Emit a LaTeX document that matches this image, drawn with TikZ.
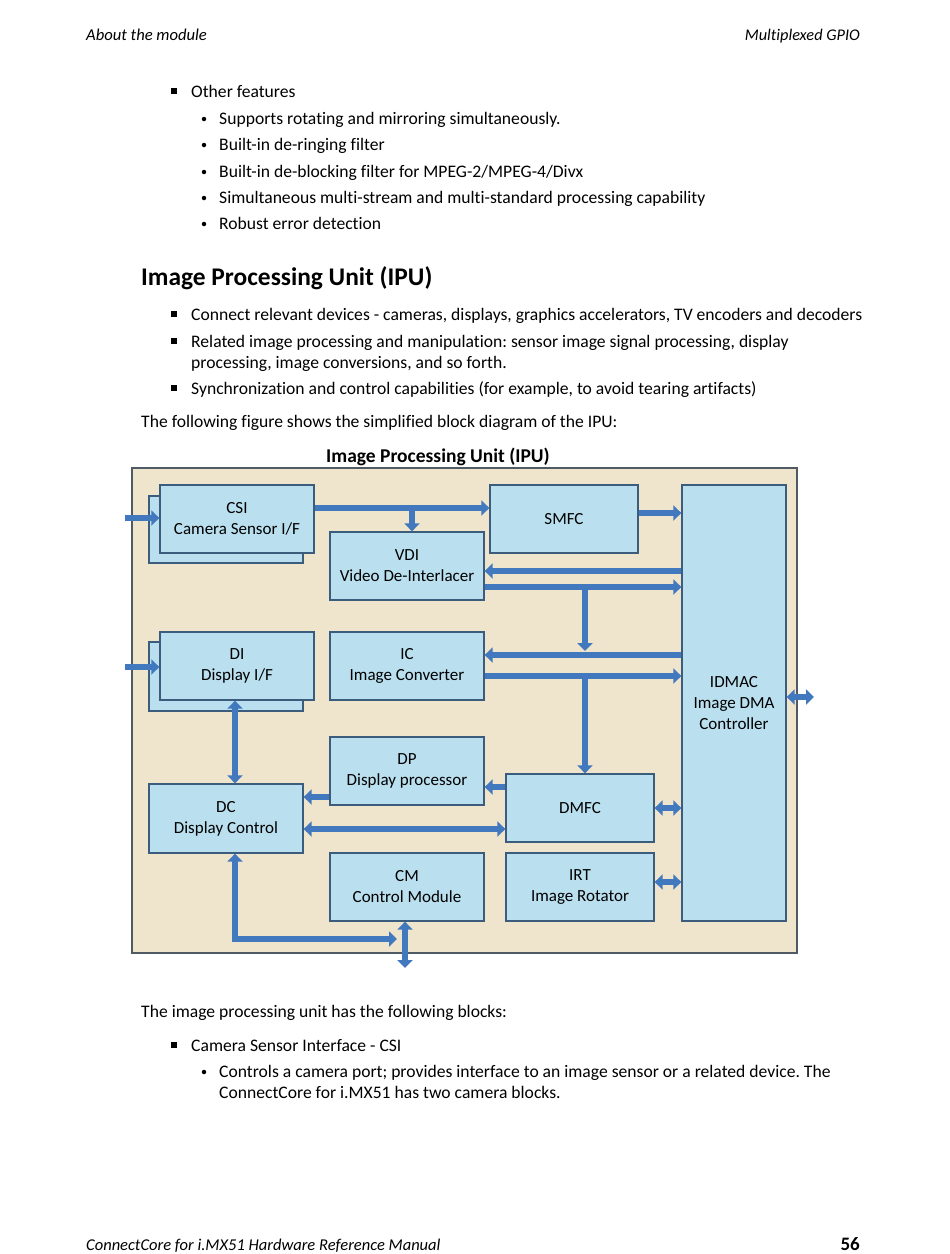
\documentclass[tikz,border=0pt]{standalone}
\usepackage{fontspec}
\setmainfont[Ligatures={NoCommon}]{Carlito}
\usetikzlibrary{arrows.meta}
\frenchspacing
\definecolor{tan}{RGB}{239,228,204}
\definecolor{boxblue}{RGB}{186,224,240}
\definecolor{boxline}{RGB}{60,92,125}
\definecolor{arrblue}{RGB}{66,120,190}
\definecolor{outline}{RGB}{80,90,100}
\tikzset{
  body/.style={anchor=base west, inner sep=0pt, font=\fontsize{17.6}{21}\selectfont},
  sqb/.style={fill=black, inner sep=0pt, minimum size=6.5pt},
  dotb/.style={circle, fill=black, inner sep=0pt, minimum size=4.5pt},
  blk/.style={draw=boxline, line width=1.3pt, fill=boxblue, align=center, inner sep=0pt,
              font=\fontsize{17}{21}\selectfont},
  arr/.style={draw=arrblue, line width=6pt, -{Triangle[length=8pt,width=15pt]}},
  darr/.style={draw=arrblue, line width=6pt, {Triangle[length=8pt,width=15pt]}-{Triangle[length=8pt,width=15pt]}},
}
\begin{document}
\begin{tikzpicture}[x=1pt,y=-1pt]
\fill[white] (0,0) rectangle (950,1254);
\useasboundingbox (0,0) rectangle (950,1254);
% header
\node[body, font=\fontsize{16.6}{19}\selectfont\itshape] (hl) at (86,40) {About the module};
\node[body, anchor=base east, font=\fontsize{16.3}{19}\selectfont\itshape] (hr) at (860,40) {Multiplexed GPIO};
% other features
\node[sqb] (q1) at (174,91) {};
\node[body] (t1) at (191,97) {Other features};
\node[dotb] (d1) at (204,119) {};
\node[body] (t2) at (219,124) {Supports rotating and mirroring simultaneously.};
\node[dotb] (d2) at (204,145) {};
\node[body] (t3) at (219,150) {Built-in de-ringing filter};
\node[dotb] (d3) at (204,172) {};
\node[body] (t4) at (219,177) {Built-in de-blocking filter for MPEG-2/MPEG-4/Divx};
\node[dotb] (d4) at (204,198) {};
\node[body] (t5) at (219,203) {Simultaneous multi-stream and multi-standard processing capability};
\node[dotb] (d5) at (204,224) {};
\node[body] (t6) at (219,229) {Robust error detection};
% heading
\node[body, font=\fontsize{25.4}{30}\selectfont\bfseries] (h1) at (141,285) {Image Processing Unit (IPU)};
\node[sqb] (q2) at (174,314) {};
\node[body] (t7) at (191,320) {Connect relevant devices - cameras, displays, graphics accelerators, TV encoders and decoders};
\node[sqb] (q3) at (174,341) {};
\node[body] (t8) at (191,347) {Related image processing and manipulation: sensor image signal processing, display};
\node[body] (t9) at (191,368) {processing, image conversions, and so forth.};
\node[sqb] (q4) at (174,388) {};
\node[body] (t10) at (191,394) {Synchronization and control capabilities (for example, to avoid tearing artifacts)};
\node[body] (t11) at (141,427) {The following figure shows the simplified block diagram of the IPU:};
% diagram
\node[body, anchor=base, font=\fontsize{19.5}{23}\selectfont\bfseries] (dt) at (438,462) {Image Processing Unit (IPU)};
\draw[draw=outline, line width=1.3pt, fill=tan] (132,468) rectangle (797,953);
\draw[draw=boxline, line width=1.3pt, fill=boxblue] (149,496) rectangle (303,563);
\draw[draw=boxline, line width=1.3pt, fill=boxblue] (149,642) rectangle (303,711);
\node[blk, minimum width=154pt, minimum height=68pt] (csi) at (237,519) {CSI\\Camera Sensor I/F};
\node[blk, minimum width=148pt, minimum height=68pt] (smfc) at (564,519) {SMFC};
\node[blk, minimum width=104pt, minimum height=436pt] (idmac) at (734,703) {IDMAC\\Image DMA\\Controller};
\node[blk, minimum width=154pt, minimum height=68pt] (vdi) at (407,566) {VDI\\Video De-Interlacer};
\node[blk, minimum width=154pt, minimum height=68pt] (di) at (237,666) {DI\\Display I/F};
\node[blk, minimum width=154pt, minimum height=68pt] (ic) at (407,666) {IC\\Image Converter};
\node[blk, minimum width=154pt, minimum height=68pt] (dp) at (407,771) {DP\\Display processor};
\node[blk, minimum width=154pt, minimum height=69pt] (dc) at (226,818.5) {DC\\Display Control};
\node[blk, minimum width=148pt, minimum height=68pt] (dmfc) at (580,808) {DMFC};
\node[blk, minimum width=154pt, minimum height=68pt] (cm) at (407,887) {CM\\Control Module};
\node[blk, minimum width=148pt, minimum height=68pt] (irt) at (580,887) {IRT\\Image Rotator};
\coordinate (csiin) at (125,518);
\coordinate (diin) at (125,667);
\coordinate (ext) at (814,697);
\coordinate (bend) at (235,939);
\coordinate (bus) at (397,939);
\coordinate (cmout) at (405,968);
% arrows
\draw[arr] (csiin) -- (csi.west |- csiin);
\draw[arr] (diin) -- (di.west |- diin);
\draw[arr] (csi.east |- 0,508) -- (smfc.west |- 0,508);
\draw[arr] (412,511) -- (vdi.north -| 412,0);
\draw[arr] (smfc.east |- 0,513) -- (idmac.west |- 0,513);
\draw[arr] (idmac.west |- 0,571) -- (vdi.east |- 0,571);
\draw[arr] (vdi.east |- 0,587) -- (idmac.west |- 0,587);
\draw[arr] (585,590) -- (585,651);
\draw[arr] (idmac.west |- 0,655) -- (ic.east |- 0,655);
\draw[arr] (ic.east |- 0,676) -- (idmac.west |- 0,676);
\draw[arr] (585,679) -- (dmfc.north -| 585,0);
\draw[darr] (idmac.east |- ext) -- (ext);
\draw[darr] (di.south -| 235,0) -- (dc.north -| 235,0);
\draw[arr] (dp.west |- 0,797) -- (dc.east |- 0,797);
\draw[arr] (dmfc.west |- 0,787) -- (dp.east |- 0,787);
\draw[darr] (dc.east |- 0,829) -- (dmfc.west |- 0,829);
\draw[darr] (dmfc.east |- 0,808) -- (idmac.west |- 0,808);
\draw[darr] (irt.east |- 0,882) -- (idmac.west |- 0,882);
\draw[darr, line join=miter] (dc.south -| bend) -- (bend) -- (bus);
\draw[darr] (cm.south -| cmout) -- (cmout);
% bottom text
\node[body] (t12) at (141,1017) {The image processing unit has the following blocks:};
\node[sqb] (q5) at (174,1045) {};
\node[body] (t13) at (191,1051) {Camera Sensor Interface - CSI};
\node[dotb] (d6) at (204,1072) {};
\node[body] (t14) at (219,1077) {Controls a camera port; provides interface to an image sensor or a related device. The};
\node[body] (t15) at (219,1098) {ConnectCore for i.MX51 has two camera blocks.};
% footer
\node[body, font=\fontsize{16.5}{19}\selectfont\itshape] (fl) at (86,1250) {ConnectCore for i.MX51 Hardware Reference Manual};
\node[body, anchor=base east, font=\fontsize{19}{22}\selectfont\bfseries] (fr) at (860,1250) {56};
\end{tikzpicture}
\end{document}
